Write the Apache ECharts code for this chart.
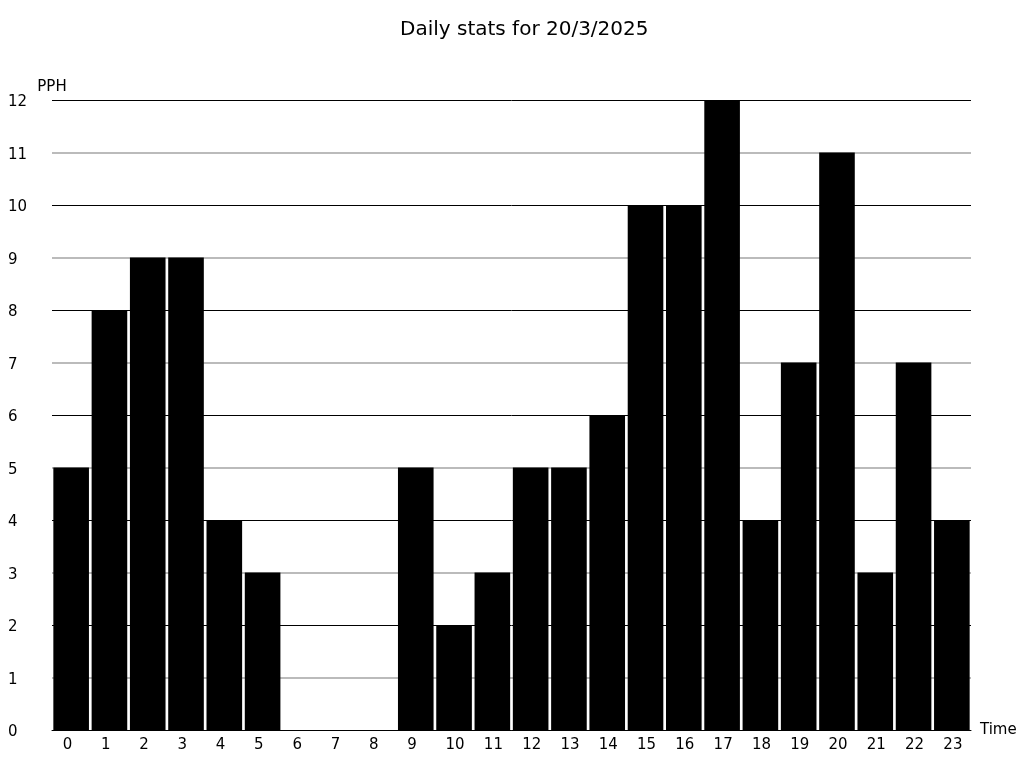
<!DOCTYPE html>
<html><head><meta charset="utf-8">
<script src="https://cdn.jsdelivr.net/npm/echarts@6/dist/echarts.min.js"></script>
<style>html,body{margin:0;padding:0;background:#fff}#c{width:1024px;height:768px}</style>
</head><body><div id="c"></div>
<script>
var categories = ['0','1','2','3','4','5','6','7','8','9','10','11','12','13','14','15','16','17','18','19','20','21','22','23'];
var values = [5,8,9,9,4,3,0,0,0,5,2,3,5,5,6,10,10,12,4,7,11,3,7,4];
var titleText = 'Daily stats for 20/3/2025';
var font = 'DejaVu Sans';
var chart = echarts.init(document.getElementById('c'));
chart.setOption({
  animation:false,
  backgroundColor:'#fff',
  title:{text:titleText,left:395,top:15,textStyle:{fontFamily:font,fontSize:20,fontWeight:'normal',color:'#000'}},
  grid:{left:52,right:53,top:100,bottom:38,containLabel:false},
  xAxis:{type:'category',data:categories,name:'Time',nameLocation:'end',nameGap:9,
    nameTextStyle:{fontFamily:font,fontSize:15,color:'#000',align:'left',verticalAlign:'middle'},
    axisLine:{lineStyle:{color:'#000',width:1}},axisTick:{show:false},
    axisLabel:{interval:0,fontFamily:font,fontSize:15,color:'#000',margin:8,align:'center',
      formatter:function(v){return '{a|'+v+'}';},
      rich:{a:{width:17,align:'left',fontFamily:font,fontSize:15,color:'#000'}}}},
  yAxis:[
    {type:'value',min:0,max:12,interval:1,name:'PPH',nameLocation:'end',nameGap:5,
     nameTextStyle:{fontFamily:font,fontSize:15,color:'#000'},
     axisLine:{show:false},axisTick:{show:false},
     axisLabel:{fontFamily:font,fontSize:15,color:'#000',align:'left',margin:44,
       formatter:function(v){return '{a|'+v+'}';},
       rich:{a:{fontFamily:font,fontSize:15,color:'#000',padding:[5,0,0,0]}}},
     splitLine:{show:true,lineStyle:{color:['rgba(0,0,0,0)','#bbb'],width:2}}},
    {type:'value',min:0,max:12,interval:2,position:'left',
     axisLine:{show:false},axisTick:{show:false},axisLabel:{show:false},
     splitLine:{show:true,lineStyle:{color:'#000',width:1}}}
  ],
  series:[{type:'bar',data:values,barCategoryGap:'7%',itemStyle:{color:'#000'},silent:true}]
});
</script></body></html>
